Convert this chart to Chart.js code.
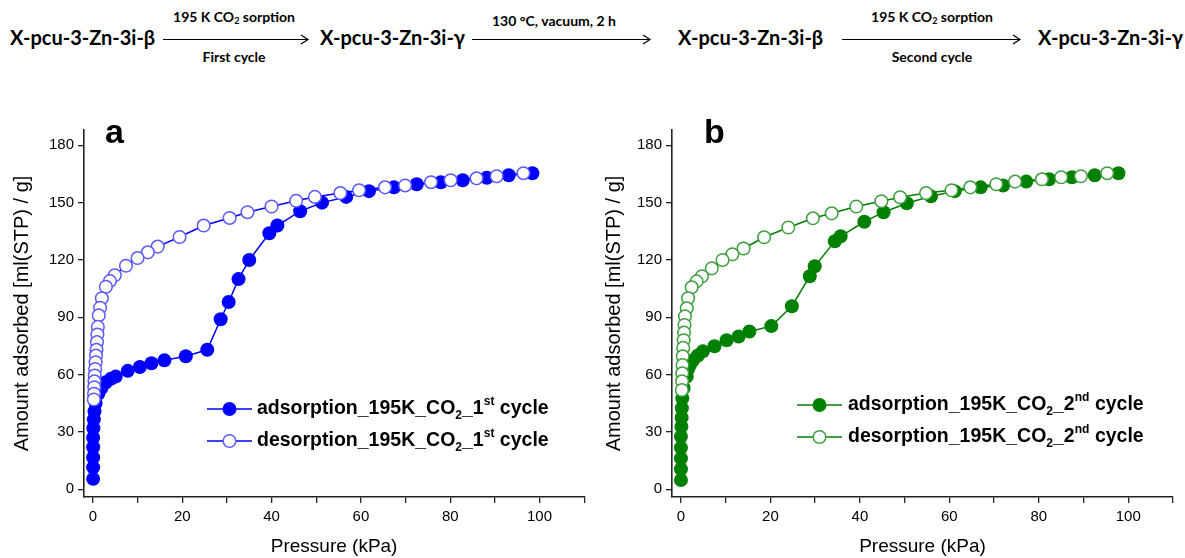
<!DOCTYPE html>
<html>
<head>
<meta charset="utf-8">
<script src="https://cdn.jsdelivr.net/npm/chart.js@4.4.0/dist/chart.umd.min.js"></script>
<style>
  html, body { margin: 0; padding: 0; background: #fff; }
  #page { position: relative; width: 1185px; height: 558px; overflow: hidden; font-family: Lato, "Open Sans", sans-serif; color: #000; }
  .nm { position: absolute; top: 25px; font-size: 20px; font-weight: 700; white-space: nowrap; line-height: 24px; }
  .sm { position: absolute; font-size: 14px; font-weight: 700; white-space: nowrap; line-height: 16px; }
  .ctr { transform: translateX(-50%); }
  .sm sub { font-size: 9px; vertical-align: -2px; line-height: 0; }
  canvas { position: absolute; top: 100px; }
  svg { position: absolute; left: 0; top: 0; }
</style>
</head>
<body>
<div id="page">
  <div class="nm" style="left:10px">X-pcu-3-Zn-3i-β</div>
  <div class="sm ctr" style="left:234px;top:9px">195 K CO<sub>2</sub> sorption</div>
  <div class="sm ctr" style="left:234px;top:49px">First cycle</div>
  <div class="nm" style="left:320px">X-pcu-3-Zn-3i-γ</div>
  <div class="sm" style="left:492px;top:13px">130 °C, vacuum, 2 h</div>
  <div class="nm" style="left:678px">X-pcu-3-Zn-3i-β</div>
  <div class="sm ctr" style="left:932px;top:9px">195 K CO<sub>2</sub> sorption</div>
  <div class="sm ctr" style="left:932px;top:49px">Second cycle</div>
  <div class="nm" style="left:1038px">X-pcu-3-Zn-3i-γ</div>
  <svg width="1185" height="80">
    <g stroke="#000" stroke-width="1.2" fill="none">
      <path d="M163 39.5 H308 M301 35 L308 39.5 L301 44"/>
      <path d="M472 39.5 H650 M643 35 L650 39.5 L643 44"/>
      <path d="M842 39.5 H1020 M1013 35 L1020 39.5 L1013 44"/>
    </g>
  </svg>
  <canvas id="chartA" width="592" height="458" style="left:0px"></canvas>
  <canvas id="chartB" width="593" height="458" style="left:592px"></canvas>
</div>
<script>
// Isotherm 1 (first cycle): pressure in kPa, uptake in ml(STP)/g
const adsP1 = [0.05,0.05,0.05,0.05,0.05,0.1,0.2,0.35,0.6,1.2,1.9,2.9,4.0,5.1,7.8,10.5,13.1,16.0,20.8,25.6,28.6,30.4,32.6,35.0,39.5,41.3,46.4,51.3,56.7,61.8,67.4,72.5,77.9,82.8,88.2,93.1,98.4];
const adsV1 = [5.5,11.5,16.7,22,27,32,36.6,40.8,45,50,53,56,57.8,59,62,64,66,67.5,69.6,73,89,98,110,120,134,138,145.5,150,153,156,158,159.6,160.7,161.7,163,164.3,165.4];
const desP1 = [96.4,90.4,85.9,80.1,75.7,69.9,65.4,59.6,55.4,49.7,45.5,40.0,34.6,30.6,24.8,19.4,14.5,12.3,10.0,7.4,4.9,3.8,2.9,2.0,1.6,1.3,1.1,1.0,0.9,0.8,0.7,0.6,0.5,0.4,0.35,0.3,0.25,0.2];
const desV1 = [165.4,163.8,162.7,161.7,160.7,159,158,156.5,155,153,151,148,145,142,138,132,127,124,121,117,112,109,106,100,95,91,85,81,77,73,70,66.5,63,59.6,56.5,53.4,50,47];

// Isotherm 2 (second cycle)
const adsP2 = [0,0,0,0,0,0.1,0.15,0.2,0.3,0.6,1.3,1.6,2.0,2.7,3.8,4.9,7.5,10.2,12.9,15.3,20.2,24.8,28.8,29.9,34.4,35.7,41,45.3,50.5,55.9,61.2,67,72,77.2,82.3,87.4,92.5,97.8];
const adsV2 = [4.9,10.6,16.2,21.8,27.6,32.8,37.5,42.4,47.6,53,59,63,65,67.5,70,72.2,74.9,78,80,82.6,85.4,95.8,111.5,116.7,129.8,132.4,140,145,149.7,153.3,156,158,159,161,162.2,163.3,164.3,165.4];
const desP2 = [95.3,89.4,85.0,80.7,74.7,70.5,64.7,60.5,54.8,49.0,44.8,39.2,33.7,29.5,24.0,18.6,14.0,11.5,9.3,6.9,4.7,3.5,2.4,1.6,1.3,0.9,0.8,0.7,0.6,0.5,0.4,0.35,0.3,0.25,0.2];
const desV2 = [165.4,163.8,163.3,162.2,161,159.6,158,156.5,155,152.8,150.7,148,144.4,141.8,137,131.9,126,123,120,115.6,111.5,108.8,105.7,100,94.7,90.5,86,82,78,74,69.6,65,60.7,56.5,52];

// Axis ticks
const xTicks = [0,10,20,30,40,50,60,70,80,90,100,110];
const xLabeled = [0,20,40,60,80,100];
const yTicks = [0,30,60,90,120,150,180];

// Legend wording (plain / subscript / superscript runs)
const legendAds1 = [['adsorption_195K_CO','n'],['2','sub'],['_1','n'],['st','sup'],[' cycle','n']];
const legendDes1 = [['desorption_195K_CO','n'],['2','sub'],['_1','n'],['st','sup'],[' cycle','n']];
const legendAds2 = [['adsorption_195K_CO','n'],['2','sub'],['_2','n'],['nd','sup'],[' cycle','n']];
const legendDes2 = [['desorption_195K_CO','n'],['2','sub'],['_2','n'],['nd','sup'],[' cycle','n']];

const FONT = '"Liberation Sans", Arial, sans-serif';

function pairs(px, py) { return px.map((p, i) => ({ x: p, y: py[i] })); }

function drawRich(ctx, runs, x, y, size) {
  let cx = x;
  ctx.textBaseline = 'middle';
  ctx.textAlign = 'left';
  for (const [t, kind] of runs) {
    let s = size, dy = 0;
    if (kind === 'sub') { s = size * 0.62; dy = size * 0.32; }
    if (kind === 'sup') { s = size * 0.62; dy = -size * 0.36; }
    ctx.font = 'bold ' + s + 'px ' + FONT;
    ctx.fillText(t, cx, y + dy);
    cx += ctx.measureText(t).width;
  }
}

const panelDeco = {
  id: 'panelDeco',
  afterDraw(chart, args, opts) {
    const ctx = chart.ctx;
    ctx.save();
    // panel letter
    ctx.fillStyle = '#000';
    ctx.font = 'bold 34px ' + FONT;
    ctx.textAlign = 'left';
    ctx.textBaseline = 'alphabetic';
    ctx.fillText(opts.letter, opts.letterX, opts.letterY);
    // legend rows
    opts.rows.forEach((row, i) => {
      const y = opts.rowY[i];
      ctx.strokeStyle = opts.color;
      ctx.lineWidth = 1.5;
      ctx.beginPath();
      ctx.moveTo(opts.lineX0, y);
      ctx.lineTo(opts.lineX1, y);
      ctx.stroke();
      const mx = (opts.lineX0 + opts.lineX1) / 2;
      ctx.beginPath();
      ctx.arc(mx, y, row.open ? 6.3 : 7, 0, Math.PI * 2);
      if (row.open) {
        ctx.fillStyle = '#fff';
        ctx.fill();
        ctx.strokeStyle = opts.openColor;
        ctx.lineWidth = 1.5;
        ctx.stroke();
      } else {
        ctx.fillStyle = opts.color;
        ctx.fill();
      }
      ctx.fillStyle = '#000';
      drawRich(ctx, row.text, opts.textX, y, 19.5);
    });
    ctx.restore();
  }
};

function makeChart(id, ads, des, color, openColor, deco, areaLeft, padRight) {
  return new Chart(document.getElementById(id), {
    type: 'line',
    data: {
      datasets: [
        {
          data: des,
          borderColor: color,
          borderWidth: 1.5,
          pointRadius: 6.3,
          pointHoverRadius: 6.3,
          pointBackgroundColor: '#fff',
          pointBorderColor: openColor,
          pointBorderWidth: 1.5,
          tension: 0,
          fill: false
        },
        {
          data: ads,
          borderColor: color,
          borderWidth: 1.5,
          pointRadius: 7,
          pointHoverRadius: 7,
          pointBackgroundColor: color,
          pointBorderColor: color,
          pointBorderWidth: 0,
          tension: 0,
          fill: false
        }
      ]
    },
    options: {
      responsive: false,
      animation: false,
      events: [],
      layout: { padding: { left: 0, right: padRight, top: 30, bottom: 0 } },
      plugins: {
        legend: { display: false },
        tooltip: { enabled: false },
        panelDeco: deco
      },
      scales: {
        x: {
          type: 'linear',
          min: -2,
          max: 110,
          afterBuildTicks: s => { s.ticks = xTicks.map(v => ({ value: v })); },
          afterFit: s => { s.height = 61; },
          ticks: {
            autoSkip: false,
            maxRotation: 0,
            padding: 5,
            color: '#000',
            font: { family: FONT, size: 15 },
            callback: v => xLabeled.includes(v) ? String(v) : ''
          },
          grid: { drawOnChartArea: false, drawTicks: true, tickLength: 6, color: '#222', lineWidth: 1.3 },
          border: { display: true, color: '#222', width: 1.6 },
          title: { display: true, text: 'Pressure (kPa)', color: '#000', font: { family: FONT, size: 19 }, padding: { top: 1, bottom: 0 } }
        },
        y: {
          type: 'linear',
          min: -4,
          max: 188,
          afterBuildTicks: s => { s.ticks = yTicks.map(v => ({ value: v })); },
          afterFit: s => { s.width = areaLeft; },
          ticks: {
            autoSkip: false,
            padding: 4,
            color: '#000',
            font: { family: FONT, size: 15 },
            callback: v => String(v)
          },
          grid: { drawOnChartArea: false, drawTicks: true, tickLength: 6, color: '#222', lineWidth: 1.3 },
          border: { display: true, color: '#222', width: 1.6 },
          title: { display: true, text: 'Amount adsorbed [ml(STP) / g]', color: '#000', font: { family: FONT, size: 20 }, padding: { top: 10, bottom: 0 } }
        }
      }
    },
    plugins: [panelDeco]
  });
}

makeChart('chartA', pairs(adsP1, adsV1), pairs(desP1, desV1), '#0000ff', '#5a5aff', {
  letter: 'a', letterX: 105, letterY: 43,
  rows: [{ text: legendAds1, open: false }, { text: legendDes1, open: true }],
  rowY: [309, 341], lineX0: 207, lineX1: 252, textX: 257,
  color: '#0000ff', openColor: '#5a5aff'
}, 84, 7);

makeChart('chartB', pairs(adsP2, adsV2), pairs(desP2, desV2), '#008000', '#3f9f3f', {
  letter: 'b', letterX: 112, letterY: 43,
  rows: [{ text: legendAds2, open: false }, { text: legendDes2, open: true }],
  rowY: [305, 337], lineX0: 205, lineX1: 250, textX: 256,
  color: '#008000', openColor: '#3f9f3f'
}, 80, 12);
</script>
</body>
</html>
